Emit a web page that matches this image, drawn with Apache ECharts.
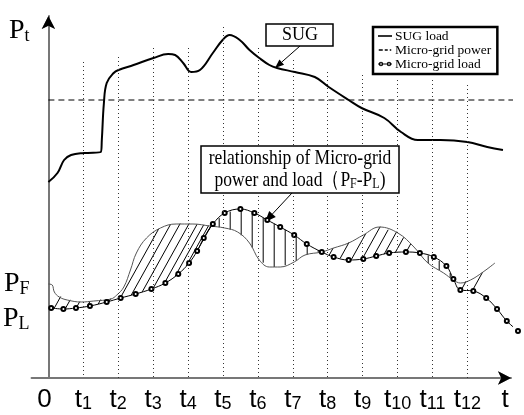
<!DOCTYPE html>
<html>
<head>
<meta charset="utf-8">
<script src="https://cdn.jsdelivr.net/npm/echarts@6/dist/echarts.min.js"></script>
<style>
html, body { margin: 0; padding: 0; background: #fff; }
#chart { width: 524px; height: 415px; }
</style>
</head>
<body>
<div id="chart"></div>
<script>
// x is in units of t (t0 = 0 ... t12 = 12), y in arbitrary power units
var sugX = [0, 0.26, 0.45, 0.65, 1.02, 1.50, 1.53, 1.59, 1.67, 1.87, 2.01, 2.44, 3.01, 3.43, 3.63, 3.86, 4.09, 4.34, 4.71, 4.99,
            5.19, 5.48, 5.76, 6.04, 6.33, 6.55, 7.06, 7.63, 8.03, 8.60, 8.97, 9.62, 10.10, 10.58, 11.23, 12.00, 12.57, 13.02];
var sugY = [19.6, 20.5, 21.8, 22.3, 22.5, 22.6, 23.8, 27.5, 29.5, 30.5, 30.8, 31.3, 32.0, 32.4, 32.3, 31.5, 30.6, 30.8, 32.5, 33.8,
            34.3, 33.8, 32.8, 32.0, 31.3, 31.0, 30.6, 30.1, 29.1, 27.8, 27.0, 26.0, 24.6, 23.8, 23.8, 23.6, 23.1, 22.8];

var loadX = [0.08, 0.43, 0.79, 1.19, 1.67, 2.07, 2.50, 2.95, 3.35, 3.72, 4.03, 4.26, 4.45, 4.71, 5.05, 5.50, 5.90, 6.27, 6.64, 7.04,
             7.40, 7.83, 8.17, 8.60, 9.02, 9.39, 9.76, 10.24, 10.64, 11.04, 11.40, 11.60, 11.80, 12.17, 12.54, 12.85, 13.13, 13.45];
var loadY = [7.0, 6.9, 7.0, 7.2, 7.6, 8.0, 8.4, 8.9, 9.5, 10.4, 11.5, 12.7, 14.0, 15.4, 16.5, 16.9, 16.5, 15.8, 15.1, 14.3,
             13.4, 12.6, 12.1, 11.8, 11.9, 12.2, 12.5, 12.6, 12.5, 12.1, 11.2, 9.9, 8.8, 8.7, 8.0, 6.9, 5.7, 4.7];

var powerX = [0, 0.11, 0.17, 0.31, 0.54, 0.94, 1.30, 1.79, 1.96, 2.16, 2.35, 2.52, 2.81, 3.21, 3.66, 4.14, 4.62, 5.05, 5.42, 5.76,
              6.04, 6.33, 6.64, 7.04, 7.35, 7.83, 8.17, 8.60, 9.02, 9.48, 10.01, 10.47, 10.87, 11.32, 11.60, 11.80, 12.09, 12.45, 12.79];
var powerY = [9.4, 9.3, 8.6, 8.1, 7.8, 7.6, 7.7, 7.9, 8.3, 9.1, 10.8, 12.5, 14.0, 15.0, 15.4, 15.4, 15.2, 15.0, 14.6, 13.5,
              11.8, 11.1, 11.1, 11.6, 12.3, 12.6, 13.0, 13.5, 14.3, 15.1, 14.5, 13.1, 11.5, 10.5, 9.8, 9.5, 9.8, 10.6, 11.5];

var levelX = [0, 13.62];
var levelY = [27.8, 27.8];

var tickValues = [0, 1, 2, 3, 4, 5, 6, 7, 8, 9, 10, 11, 12, 13.08];
var tickNames = ['0', 't1', 't2', 't3', 't4', 't5', 't6', 't7', 't8', 't9', 't10', 't11', 't12', 't'];
// top end of the dotted guide at t1..t12
var guideTop = [31.6, 32.1, 33.0, 33.0, 35.1, 33.0, 31.8, 30.6, 30.3, 29.8, 29.8, 29.3];

var yLabelValues = [34.7, 9.4, 5.9];
var yLabelNames = ['Pt', 'PF', 'PL'];

var hatchEnd = 12.25;

function pairs(xs, ys) {
    return xs.map(function (x, i) { return [x, ys[i]]; });
}

function interp(pts, px) {
    if (px < pts[0][0] || px > pts[pts.length - 1][0]) return null;
    for (var i = 1; i < pts.length; i++) {
        if (px <= pts[i][0]) {
            var a = pts[i - 1], b = pts[i];
            var f = (px - a[0]) / ((b[0] - a[0]) || 1);
            return a[1] + f * (b[1] - a[1]);
        }
    }
    return null;
}

function arrow(x1, y1, x2, y2, len, half) {
    var dx = x2 - x1, dy = y2 - y1, L = Math.sqrt(dx * dx + dy * dy);
    var ux = dx / L, uy = dy / L;
    var bx = x2 - ux * len, by = y2 - uy * len;
    return [
        {type: 'line', shape: {x1: x1, y1: y1, x2: bx, y2: by}, style: {stroke: '#000', lineWidth: 1}},
        {type: 'polygon', shape: {points: [[x2, y2], [bx - uy * half, by + ux * half], [bx + uy * half, by - ux * half]]},
            style: {fill: '#000'}}
    ];
}

var myChart = echarts.init(document.getElementById('chart'));

var serif = '"Liberation Serif", "Times New Roman", serif';
var sans = '"Liberation Sans", Arial, sans-serif';

// legend glyphs: solid line, dashed line, line with two rings
var iconSolid = 'path://M0,3.2h14v1.6h-14z';
var iconDashed = 'path://M0,3.3h4v1.4h-4z M6,3.3h3v1.4h-3z M11,3.3h1.5v1.4h-1.5z M0,0h0.01v0.01z M0,8h0.01v0.01z';
var iconRings = 'path://M0,3.5h14v1h-14z' +
    'M5.2,4A2.2,2.2 0 1,1 0.8,4A2.2,2.2 0 1,1 5.2,4Z M4.2,4A1.2,1.2 0 1,0 1.8,4A1.2,1.2 0 1,0 4.2,4Z' +
    'M13.2,4A2.2,2.2 0 1,1 8.8,4A2.2,2.2 0 1,1 13.2,4Z M12.2,4A1.2,1.2 0 1,0 9.8,4A1.2,1.2 0 1,0 12.2,4Z';

function axisArrowOnly(extra) {
    var a = {
        show: true,
        axisLine: {show: true, onZero: true, symbol: ['none', 'arrow'], symbolSize: [10, 13],
            lineStyle: {color: '#000', width: 0}},
        axisTick: {show: false},
        axisLabel: {show: false},
        splitLine: {show: false}
    };
    for (var k in extra) a[k] = extra[k];
    return a;
}

var option = {
    animation: false,
    backgroundColor: '#fff',
    grid: {left: 27, right: 13, top: 16, bottom: 37},
    legend: {
        data: [
            {name: 'SUG load', icon: iconSolid},
            {name: 'Micro-grid power', icon: iconDashed},
            {name: 'Micro-grid load', icon: iconRings}
        ],
        orient: 'vertical',
        left: 373,
        top: 27,
        selectedMode: false,
        itemWidth: 14,
        itemHeight: 8,
        itemGap: 0,
        padding: [2, 6, 3, 5],
        borderColor: '#000',
        borderWidth: 2.5,
        borderRadius: 0,
        backgroundColor: '#fff',
        itemStyle: {color: '#000', borderWidth: 0},
        textStyle: {fontFamily: serif, fontSize: 13.5, color: '#000', padding: [0, 0, 0, -2]}
    },
    xAxis: [{
        type: 'value',
        min: -0.482,
        max: 13.25,
        axisLine: {onZero: true, symbol: ['none', 'arrow'], symbolSize: [10, 13],
            lineStyle: {color: '#777', width: 2}},
        axisTick: {show: false},
        splitLine: {show: false},
        axisLabel: {
            customValues: tickValues,
            margin: 9,
            formatter: function (v) {
                var i = tickValues.indexOf(v);
                var name = tickNames[i] || '';
                if (name === '0') return '{z|0}';
                if (name === 't') return '{t|t}';
                return '{t|t}{n|' + name.slice(1) + '}';
            },
            rich: {
                z: {fontFamily: sans, fontSize: 26, color: '#000', padding: [0, 8, 0, 0]},
                t: {fontFamily: sans, fontSize: 26, lineHeight: 26, color: '#000', verticalAlign: 'bottom'},
                n: {fontFamily: sans, fontSize: 18, lineHeight: 18, color: '#000', verticalAlign: 'bottom'}
            }
        }
    }, axisArrowOnly({type: 'value', position: 'bottom', min: -0.482, max: 13.25})],
    yAxis: [{
        type: 'value',
        min: 0,
        max: 36.2,
        axisLine: {onZero: true, symbol: ['none', 'arrow'], symbolSize: [10, 13],
            lineStyle: {color: '#777', width: 2}},
        axisTick: {show: false},
        splitLine: {show: false},
        axisLabel: {
            customValues: yLabelValues,
            margin: 2,
            formatter: function (v) {
                var name = yLabelNames[yLabelValues.indexOf(v)] || '';
                return '{p|P}{s|' + name.slice(1) + '}';
            },
            rich: {
                p: {fontFamily: serif, fontSize: 28, lineHeight: 28, color: '#000', verticalAlign: 'bottom'},
                s: {fontFamily: serif, fontSize: 18, lineHeight: 16, color: '#000', verticalAlign: 'bottom'}
            }
        }
    }, axisArrowOnly({type: 'value', position: 'left', min: 0, max: 36.2})],
    series: [
        {
            name: 'hatch',
            type: 'custom',
            silent: true,
            data: [0],
            z: 1,
            renderItem: function (params, api) {
                var lp = loadX.map(function (x, i) { return api.coord([x, loadY[i]]); });
                var pp = powerX.map(function (x, i) { return api.coord([x, powerY[i]]); });
                var start = Math.max(lp[0][0], pp[0][0]) + 3;
                var end = api.coord([hatchEnd, 0])[0];
                var slope = 1.8, step = 11;
                var kids = [];
                for (var px = start; px < end; px += step) {
                    var l = interp(lp, px), p = interp(pp, px);
                    if (l == null || p == null) continue;
                    if (l - p > 2) {
                        var d = 0, yp;
                        while (d < 80) {
                            d += 0.5;
                            yp = interp(pp, px + d);
                            if (yp == null || l - slope * d <= yp) break;
                        }
                        kids.push({type: 'line', shape: {x1: px, y1: l, x2: px + d, y2: l - slope * d},
                            style: {stroke: '#000', lineWidth: 1}});
                    } else if (p - l > 2) {
                        kids.push({type: 'line', shape: {x1: px, y1: l, x2: px, y2: p},
                            style: {stroke: '#000', lineWidth: 1}});
                    }
                }
                return {type: 'group', children: kids};
            }
        },
        {
            name: 'SUG load',
            type: 'line',
            smooth: 0.4,
            symbol: 'none',
            z: 3,
            lineStyle: {color: '#000', width: 2},
            itemStyle: {color: '#000'},
            data: pairs(sugX, sugY),
            markLine: {
                silent: true,
                symbol: 'none',
                label: {show: false},
                lineStyle: {color: '#333', width: 1, type: [1, 3]},
                data: guideTop.map(function (top, i) {
                    return [{coord: [tickValues[i + 1], top]}, {coord: [tickValues[i + 1], 0]}];
                })
            }
        },
        {
            name: 'Micro-grid power',
            type: 'line',
            symbol: 'none',
            clip: false,
            z: 2,
            lineStyle: {color: '#000', width: 1, type: [6, 4]},
            itemStyle: {color: '#000'},
            data: pairs(levelX, levelY)
        },
        {
            name: 'PF-PL',
            type: 'line',
            smooth: 0.4,
            symbol: 'none',
            clip: false,
            z: 2,
            lineStyle: {color: '#555', width: 1},
            data: pairs(powerX, powerY)
        },
        {
            name: 'Micro-grid load',
            type: 'line',
            smooth: 0.4,
            symbol: 'emptyCircle',
            symbolSize: 4,
            clip: false,
            z: 4,
            lineStyle: {color: '#000', width: 1},
            itemStyle: {color: '#000', borderWidth: 1},
            data: pairs(loadX, loadY)
        }
    ],
    graphic: [
        {type: 'rect', shape: {x: 266, y: 24, width: 67, height: 22}, style: {fill: '#fff', stroke: '#000', lineWidth: 1.5}, z: 10},
        {type: 'text', x: 300, y: 35.5, z: 11,
            style: {text: 'SUG', font: '18px ' + serif, fill: '#000', align: 'center', verticalAlign: 'middle'}},
        {type: 'rect', shape: {x: 201, y: 146, width: 198, height: 47}, style: {fill: '#fff', stroke: '#000', lineWidth: 1.5}, z: 10},
        {type: 'text', x: 300, y: 158, scaleY: 1.25, z: 11,
            style: {text: 'relationship of Micro-grid', font: '17.5px ' + serif, fill: '#000', align: 'center', verticalAlign: 'middle'}},
        {type: 'text', x: 300, y: 181, scaleY: 1.25, z: 11,
            style: {
                text: '{a|power and load（P}{s|F}{a|-P}{s|L}{a|)}',
                align: 'center', verticalAlign: 'middle',
                rich: {
                    a: {fontFamily: serif, fontSize: 17.5, lineHeight: 17, fill: '#000', verticalAlign: 'bottom'},
                    s: {fontFamily: serif, fontSize: 12, lineHeight: 9, fill: '#000', verticalAlign: 'bottom'}
                }
            }}
    ].concat(arrow(300, 46, 275, 68, 9, 3.5)).concat(arrow(292, 193, 265, 222, 11, 4.5))
};

myChart.setOption(option);
</script>
</body>
</html>
